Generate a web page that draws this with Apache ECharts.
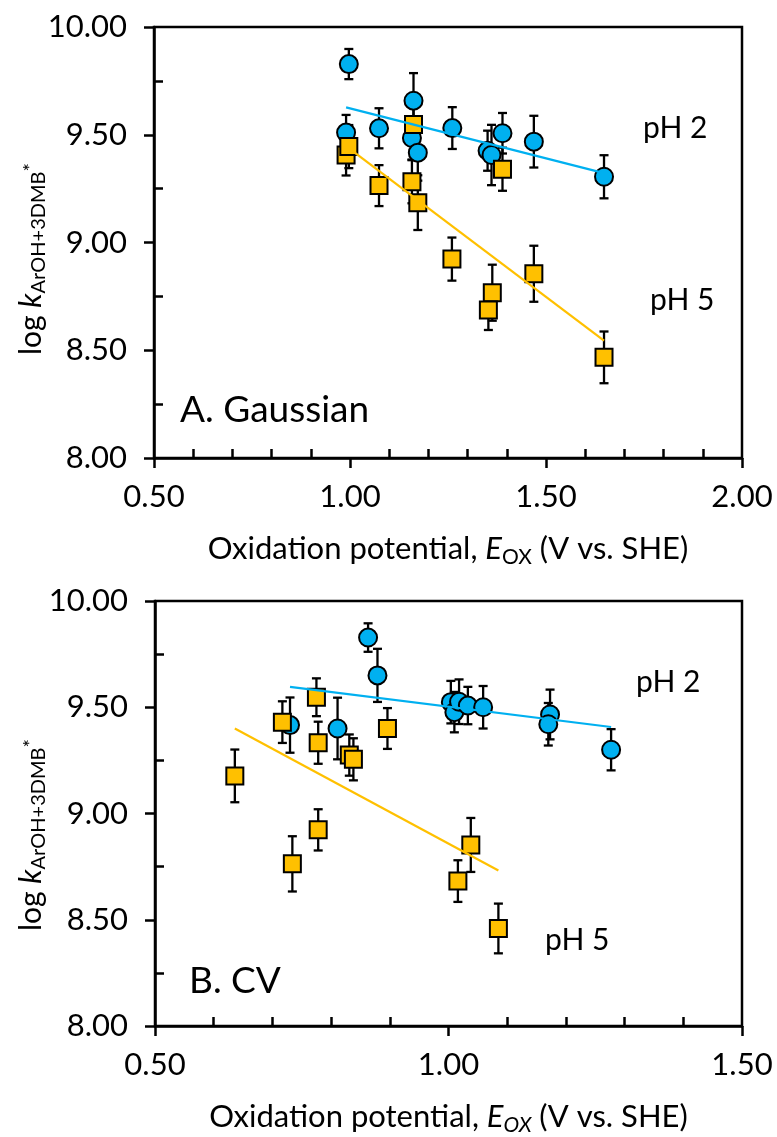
<!DOCTYPE html>
<html>
<head>
<meta charset="utf-8">
<script src="https://cdn.jsdelivr.net/npm/echarts@6/dist/echarts.min.js"></script>
<style>
  html, body { margin: 0; padding: 0; background: #fff; }
  #chart { width: 777px; height: 1137px; }
</style>
</head>
<body>
<div id="chart"></div>
<script>
// ---- Panel A: oxidation potentials from Gaussian calculations ----
const gaussPH2X   = [0.997, 0.990, 1.074, 1.162, 1.158, 1.173, 1.261, 1.351, 1.361, 1.389, 1.469, 1.648];
const gaussPH2Y   = [9.828, 9.510, 9.530, 9.658, 9.485, 9.417, 9.531, 9.426, 9.406, 9.507, 9.468, 9.305];
const gaussPH2Err = [0.070, 0.082, 0.093, 0.128, 0.100, 0.130, 0.097, 0.093, 0.140, 0.094, 0.120, 0.100];

const gaussPH5X   = [0.990, 0.997, 1.074, 1.162, 1.158, 1.173, 1.389, 1.260, 1.363, 1.353, 1.469, 1.648];
const gaussPH5Y   = [9.406, 9.445, 9.264, 9.548, 9.282, 9.185, 9.340, 8.923, 8.767, 8.687, 8.855, 8.467];
const gaussPH5Err = [0.095, 0.100, 0.095, 0.090, 0.100, 0.127, 0.100, 0.100, 0.130, 0.093, 0.130, 0.120];

// linear fits (end points of each trend line)
const gaussFitPH2X = [0.990, 1.648];
const gaussFitPH2Y = [9.627, 9.322];
const gaussFitPH5X = [0.990, 1.648];
const gaussFitPH5Y = [9.447, 8.545];

// ---- Panel B: oxidation potentials from cyclic voltammetry ----
const cvPH2X   = [0.863, 0.879, 0.730, 0.811, 1.004, 1.010, 1.018, 1.033, 1.059, 1.173, 1.170, 1.277];
const cvPH2Y   = [9.828, 9.650, 9.416, 9.400, 9.524, 9.477, 9.526, 9.508, 9.500, 9.466, 9.420, 9.300];
const cvPH2Err = [0.067, 0.125, 0.130, 0.145, 0.100, 0.095, 0.105, 0.088, 0.100, 0.117, 0.100, 0.097];

const cvPH5X   = [0.636, 0.717, 0.775, 0.778, 0.831, 0.838, 0.896, 0.734, 0.778, 1.016, 1.038, 1.085];
const cvPH5Y   = [9.177, 9.430, 9.547, 9.333, 9.275, 9.255, 9.400, 8.763, 8.923, 8.682, 8.852, 8.459];
const cvPH5Err = [0.124, 0.098, 0.089, 0.099, 0.097, 0.099, 0.096, 0.130, 0.097, 0.098, 0.127, 0.117];

const cvFitPH2X = [0.730, 1.277];
const cvFitPH2Y = [9.596, 9.407];
const cvFitPH5X = [0.636, 1.085];
const cvFitPH5Y = [9.400, 8.732];

// axis ranges and tick steps
const xRangeA = [0.5, 2.0];
const xRangeB = [0.5, 1.5];
const yRange  = [8.0, 10.0];
const xMajor = 0.5, yMajor = 0.5;
const xMinorSplit = 5, yMinorSplit = 2;   // minor ticks every 0.1 (x) and 0.25 (y)

const BLUE = '#00B0F0';
const GOLD = '#FFC000';
const INK  = '#000';
const FONT = 'Lato';

const zip = (xs, ys) => xs.map((x, i) => [x, ys[i]]);

// major ticks point outward, minor ticks (negative length) point into the plot
const majorTick = { show: true, inside: false, length: 10, lineStyle: { color: INK, width: 2.5 } };
const minorTick = split => ({ show: true, splitNumber: split, length: -9, lineStyle: { color: INK, width: 2.5 } });

function xAxisFor(range, gridIndex, italicSub) {
  return {
    type: 'value', gridIndex, min: range[0], max: range[1], interval: xMajor,
    position: 'bottom',
    axisLine: { show: true, onZero: false, lineStyle: { color: INK, width: 2.5 } },
    axisTick: majorTick,
    minorTick: minorTick(xMinorSplit),
    splitLine: { show: false }, minorSplitLine: { show: false },
    axisLabel: { color: INK, fontFamily: FONT, fontSize: 31, margin: 23,
                 formatter: v => v.toFixed(2) },
    name: 'Oxidation potential, {it|E}{' + (italicSub ? 'subit' : 'sub') + '|OX} (V vs. SHE)',
    nameLocation: 'middle', nameGap: 72,
    nameTextStyle: {
      color: INK, fontFamily: FONT, fontSize: 31, lineHeight: 38,
      rich: {
        it:    { fontFamily: FONT, fontSize: 31, fontStyle: 'italic', color: INK, lineHeight: 38 },
        sub:   { fontFamily: FONT, fontSize: 21, color: INK, verticalAlign: 'bottom', lineHeight: 24 },
        subit: { fontFamily: FONT, fontSize: 21, fontStyle: 'italic', color: INK, verticalAlign: 'bottom', lineHeight: 24 }
      }
    }
  };
}
function yAxisFor(gridIndex) {
  return {
    type: 'value', gridIndex, min: yRange[0], max: yRange[1], interval: yMajor,
    position: 'left',
    axisLine: { show: true, onZero: false, lineStyle: { color: INK, width: 2.5 } },
    axisTick: majorTick,
    minorTick: minorTick(yMinorSplit),
    splitLine: { show: false }, minorSplitLine: { show: false },
    axisLabel: { color: INK, fontFamily: FONT, fontSize: 31, margin: 27,
                 formatter: v => v.toFixed(2) }
  };
}

// vertical error bars with short caps
function errorBars(xIdx, yIdx, xs, ys, es) {
  return {
    type: 'custom', xAxisIndex: xIdx, yAxisIndex: yIdx, silent: true, z: 3,
    data: xs.map((x, i) => [x, ys[i] - es[i], ys[i] + es[i]]),
    renderItem(params, api) {
      const lo = api.coord([api.value(0), api.value(1)]);
      const hi = api.coord([api.value(0), api.value(2)]);
      const c = 4.5;
      const st = { stroke: INK, lineWidth: 2.3 };
      return {
        type: 'group',
        children: [
          { type: 'line', shape: { x1: lo[0], y1: lo[1], x2: hi[0], y2: hi[1] }, style: st },
          { type: 'line', shape: { x1: lo[0] - c, y1: lo[1], x2: lo[0] + c, y2: lo[1] }, style: st },
          { type: 'line', shape: { x1: hi[0] - c, y1: hi[1], x2: hi[0] + c, y2: hi[1] }, style: st }
        ]
      };
    }
  };
}
function markers(xIdx, yIdx, xs, ys, symbol, color, size) {
  return {
    type: 'scatter', xAxisIndex: xIdx, yAxisIndex: yIdx, z: 3,
    symbol, symbolSize: size, data: zip(xs, ys),
    itemStyle: { color, borderColor: INK, borderWidth: 2, opacity: 1 },
    emphasis: { disabled: true }
  };
}
function fitLine(xIdx, yIdx, xs, ys, color) {
  return {
    type: 'line', xAxisIndex: xIdx, yAxisIndex: yIdx, z: 4,
    data: zip(xs, ys), showSymbol: false, symbol: 'none',
    lineStyle: { color, width: 2.2 }, silent: true
  };
}

function yTitle(cx, cy) {
  return {
    type: 'text', x: cx, y: cy, rotation: Math.PI / 2,
    style: {
      text: 'log {it|k}{sub|ArOH+3DMB}{sup|*}',
      fill: INK, fontFamily: FONT, fontSize: 30, lineHeight: 36,
      align: 'center', verticalAlign: 'middle',
      rich: {
        it:  { fontFamily: FONT, fontSize: 30, fontStyle: 'italic', fill: INK, lineHeight: 36 },
        sub: { fontFamily: FONT, fontSize: 20, fill: INK, verticalAlign: 'bottom', lineHeight: 22 },
        sup: { fontFamily: FONT, fontSize: 20, fill: INK, verticalAlign: 'middle', lineHeight: 22 }
      }
    }
  };
}
function note(text, x, y, size) {
  return { type: 'text', x, y, style: { text, fill: INK, fontFamily: FONT, fontSize: size,
           align: 'left', verticalAlign: 'middle' } };
}

const chart = echarts.init(document.getElementById('chart'), null, { renderer: 'canvas' });
chart.setOption({
  animation: false,
  backgroundColor: '#fff',
  grid: [
    { left: 154, top: 27, width: 588, height: 431, show: true, borderColor: INK, borderWidth: 2.5, backgroundColor: 'transparent' },
    { left: 155, top: 601, width: 587, height: 427, show: true, borderColor: INK, borderWidth: 2.5, backgroundColor: 'transparent' }
  ],
  xAxis: [ xAxisFor(xRangeA, 0, false), xAxisFor(xRangeB, 1, true) ],
  yAxis: [ yAxisFor(0), yAxisFor(1) ],
  series: [
    errorBars(0, 0, gaussPH2X, gaussPH2Y, gaussPH2Err),
    markers(0, 0, gaussPH2X, gaussPH2Y, 'circle', BLUE, 18),
    errorBars(0, 0, gaussPH5X, gaussPH5Y, gaussPH5Err),
    markers(0, 0, gaussPH5X, gaussPH5Y, 'rect', GOLD, 17),
    fitLine(0, 0, gaussFitPH2X, gaussFitPH2Y, BLUE),
    fitLine(0, 0, gaussFitPH5X, gaussFitPH5Y, GOLD),

    errorBars(1, 1, cvPH2X, cvPH2Y, cvPH2Err),
    markers(1, 1, cvPH2X, cvPH2Y, 'circle', BLUE, 18),
    errorBars(1, 1, cvPH5X, cvPH5Y, cvPH5Err),
    markers(1, 1, cvPH5X, cvPH5Y, 'rect', GOLD, 17),
    fitLine(1, 1, cvFitPH2X, cvFitPH2Y, BLUE),
    fitLine(1, 1, cvFitPH5X, cvFitPH5Y, GOLD)
  ],
  graphic: [
    yTitle(31, 259),
    yTitle(31, 835),
    note('pH 2', 643, 128, 30),
    note('pH 5', 650, 300, 30),
    note('A. Gaussian', 180, 410, 37),
    note('pH 2', 636, 682, 30),
    note('pH 5', 545, 940, 30),
    note('B. CV', 189, 981, 37)
  ]
});
</script>
</body>
</html>
